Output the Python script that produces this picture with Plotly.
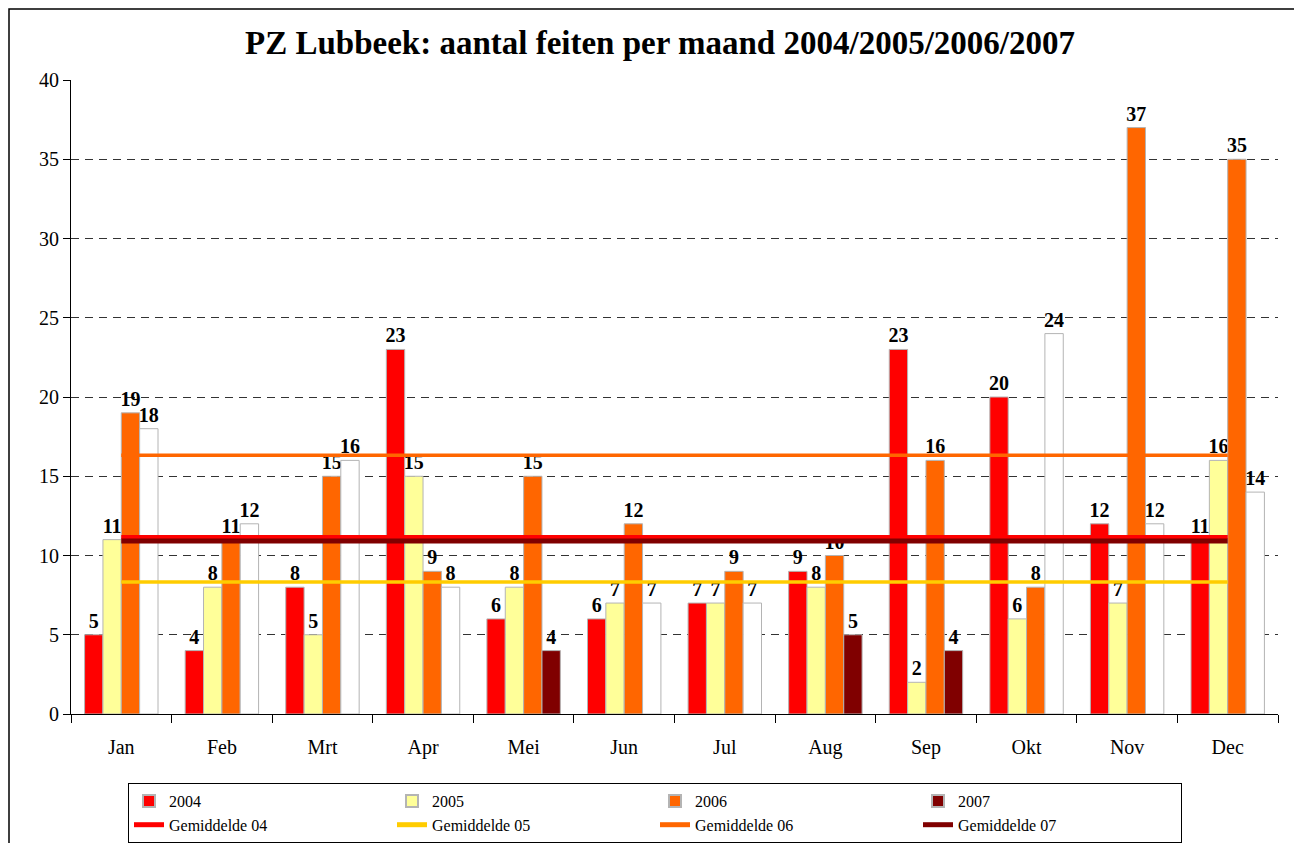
import plotly.graph_objects as go

months = ["Jan", "Feb", "Mrt", "Apr", "Mei", "Jun", "Jul", "Aug", "Sep", "Okt", "Nov", "Dec"]
v2004 = [5, 4, 8, 23, 6, 6, 7, 9, 23, 20, 12, 11]
v2005 = [11, 8, 5, 15, 8, 7, 7, 8, 2, 6, 7, 16]
v2006 = [19, 11, 15, 9, 15, 12, 9, 10, 16, 8, 37, 35]
v2007 = [18, 12, 16, 8, 4, 7, 7, 5, 4, 24, 12, 14]
# 2007 bars: most drawn white, a few in dark red (as in the reference)
dark2007 = ["Mei", "Aug", "Sep"]
avg_names = ["Gemiddelde 04", "Gemiddelde 05", "Gemiddelde 06", "Gemiddelde 07"]
avg_values = [11.17, 8.33, 16.33, 10.92]

FONT = "Liberation Serif"
OUTLINE = "#b4b4b4"
bar_colors = {"2004": "#ff0000", "2005": "#ffff99", "2006": "#ff6600", "2007": "#800000"}
line_colors = ["#ff0000", "#ffcc00", "#ff6600", "#800000"]
line_widths = [4, 3.5, 3.5, 5]

# The page body adds an 8px offset, so the figure is a little smaller than the window
W, H = 1294, 835
L, R, T, B = 63, 24, 72, 129
PW, PH = W - L - R, H - T - B

fig = go.Figure()

def add_bar(name, vals, color, group, showlegend=True):
    fig.add_trace(go.Bar(
        x=months, y=vals, name=name, offsetgroup=group,
        marker=dict(color=color, line=dict(color=OUTLINE, width=1)),
        text=[str(v) for v in vals], textposition="outside",
        textfont=dict(family=FONT, size=20, color="black", weight="bold"),
        constraintext="none", cliponaxis=False, showlegend=showlegend,
    ))

add_bar("2004", v2004, bar_colors["2004"], "a")
add_bar("2005", v2005, bar_colors["2005"], "b")
add_bar("2006", v2006, bar_colors["2006"], "c")
c2007 = [bar_colors["2007"] if m in dark2007 else "#ffffff" for m in months]
add_bar("2007", v2007, c2007, "d", showlegend=False)
# legend entry for 2007
fig.add_trace(go.Bar(x=[months[0]], y=[None], name="2007", offsetgroup="d",
                     marker=dict(color=bar_colors["2007"], line=dict(color=OUTLINE, width=1)),
                     showlegend=True))

for name, val, col, w in zip(avg_names, avg_values, line_colors, line_widths):
    fig.add_trace(go.Scatter(
        x=months, y=[val] * len(months), name=name, mode="lines",
        line=dict(color=col, width=w),
    ))

fig.update_layout(
    width=W, height=H,
    margin=dict(l=L, r=R, t=T, b=B, autoexpand=False),
    paper_bgcolor="white", plot_bgcolor="white",
    barmode="group", bargap=0.27, bargroupgap=0,
    font=dict(family=FONT, size=20, color="black"),
    title=dict(text="<b>PZ Lubbeek: aantal feiten per maand 2004/2005/2006/2007</b>",
               xref="container", x=652 / W, xanchor="center",
               yref="container", y=1 - 34 / H, yanchor="middle",
               font=dict(family=FONT, size=33, color="black")),
    legend=dict(orientation="h", xref="container", x=120 / W, xanchor="left",
                yref="container", y=1 - 775 / H, yanchor="top",
                bordercolor="black", borderwidth=1, bgcolor="white",
                entrywidth=218, entrywidthmode="pixels",
                font=dict(family=FONT, size=16, color="black"),
                tracegroupgap=0, itemsizing="constant"),
    showlegend=True,
)

fig.update_xaxes(
    type="category", showline=True, linecolor="black", linewidth=1,
    ticks="outside", tickson="boundaries", ticklen=8, tickcolor="black",
    showgrid=False, ticklabelstandoff=15,
    tickfont=dict(family=FONT, size=20, color="black"),
)
fig.update_yaxes(
    range=[0, 40], tick0=0, dtick=5, showline=True, linecolor="black", linewidth=1,
    ticks="outside", ticklen=7, tickcolor="black",
    showgrid=True, gridcolor="#333333", gridwidth=1, griddash="8px,6px",
    zeroline=False, tickfont=dict(family=FONT, size=20, color="black"),
)

# outer chart border
fig.add_shape(type="rect", xref="paper", yref="paper",
              x0=(1 - L) / PW, x1=(1289 - L) / PW,
              y0=(H - B - (H + 10)) / PH, y1=(H - B - 1) / PH,
              line=dict(color="black", width=1.5), fillcolor="rgba(0,0,0,0)", layer="below")

fig.write_html("out.html")
